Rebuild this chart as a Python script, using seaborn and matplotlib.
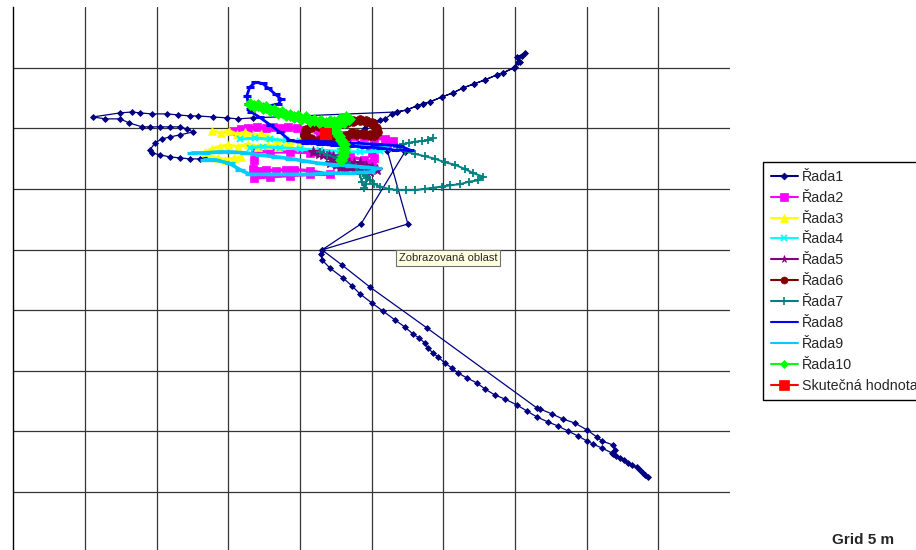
import matplotlib
matplotlib.use("Agg")
import matplotlib.pyplot as plt
from matplotlib.lines import Line2D
import seaborn as sns
import pandas as pd

# ---------------- data (metres, grid = 5 m) ----------------
r1_x = [13.59, 13.03, 12.33, 11.63, 10.94, 10.24, 9.68, 9.54, 9.89, 10.38, 10.94, 11.63, 12.54,
        12.12, 11.63, 10.94, 10.24, 9.54, 8.98, 8.08, 7.45, 6.40, 5.57,
        7.45, 8.29, 8.84, 9.68, 10.73, 11.49, 12.33, 12.89, 13.93, 14.91, 15.68, 16.72,
        26.77, 27.46, 28.16, 28.58, 29.07, 29.90, 30.67, 31.37, 32.14, 32.90, 33.74, 34.16,
        35.00, 35.34, 35.13, 35.69, 35.48, 35.20, 34.93,
        34.16, 33.74, 32.90, 32.14, 31.37, 30.67, 29.90, 29.07, 28.58, 28.16, 27.46, 26.77,
        26.42, 25.93, 25.58, 25.23, 25.02, 24.53, 23.49, 24.88, 26.10,
        27.53, 21.54,
        22.93, 24.88, 28.86, 36.53, 36.74, 37.58, 38.34, 39.18, 40.02, 40.71, 41.06, 41.83,
        41.97, 41.83,
        42.32, 42.88, 43.50, 43.92, 44.27, 44.06, 43.71, 43.16, 42.60, 42.04,
        41.76, 41.06, 40.43, 40.02, 39.39, 38.69, 37.99, 37.30, 36.53, 35.83, 35.13, 34.30,
        33.60, 32.90, 32.35, 31.65, 31.02, 30.60, 30.11, 29.63, 29.28, 28.93, 28.72, 28.30,
        27.88, 27.32, 26.63, 25.79, 25.02, 24.19, 23.63, 23.00, 22.09, 21.54, 21.47, 21.54,
        24.26, 27.32]
r1_y = [32.64, 32.48, 32.48, 32.56, 32.64, 32.81, 32.97, 33.22, 33.80, 34.13, 34.29, 34.46, 34.70,
        34.95, 35.12, 35.12, 35.12, 35.12, 35.12, 35.45, 35.78, 35.78, 35.94,
        36.27, 36.35, 36.27, 36.19, 36.19, 36.11, 36.02, 36.02, 35.94, 35.86, 35.78, 35.86,
        36.35, 36.52, 36.85, 37.01, 37.18, 37.59, 37.92, 38.33, 38.66, 38.99, 39.41, 39.57,
        40.07, 40.48, 40.89, 41.22, 40.97, 40.48, 39.98,
        39.57, 39.41, 38.99, 38.66, 38.33, 37.92, 37.59, 37.18, 37.01, 36.85, 36.52, 36.35,
        36.19, 35.78, 35.69, 35.53, 35.36, 35.03, 34.21, 33.55, 33.14,
        27.11, 24.97,
        23.73, 21.91, 18.53, 11.93, 11.85, 11.44, 11.02, 10.69, 10.12, 9.54, 9.21, 8.88,
        8.47, 8.14,
        7.81, 7.39, 7.06, 6.57, 6.24, 6.40, 6.82, 7.23, 7.64, 7.97,
        8.22, 8.63, 8.96, 9.21, 9.62, 10.03, 10.45, 10.78, 11.19, 11.68, 12.18, 12.67,
        13.00, 13.50, 13.99, 14.41, 14.82, 15.23, 15.64, 16.14, 16.47, 16.88, 17.29, 17.71,
        18.04, 18.61, 19.19, 19.93, 20.59, 21.34, 22.00, 22.66, 23.48, 24.14, 24.64, 24.97,
        27.11, 33.05]

r2_x = [15.3, 15.9, 16.4, 17.0, 17.6, 18.1, 18.7, 19.2, 19.8, 20.35, 21.4, 22.4, 23.1, 23.8,
        24.5, 25.2, 25.9, 26.5, 26.1, 25.4, 24.9, 25.0, 25.2, 25.0, 24.5, 23.5, 22.1, 20.7,
        19.3, 17.9, 16.9, 16.8, 16.7, 16.8, 17.9, 19.3, 20.7, 22.1, 20.7, 19.6, 19.0, 18.3,
        17.6, 17.1]
r2_y = [34.8, 34.95, 35.0, 35.1, 35.0, 35.1, 35.0, 35.1, 35.0, 34.9, 34.5, 34.4, 34.45, 34.4,
        34.3, 34.2, 34.1, 33.95, 33.7, 33.5, 33.4, 33.0, 32.55, 32.1, 32.4, 32.65, 32.8, 33.0,
        33.05, 33.05, 33.1, 32.4, 31.65, 30.9, 31.0, 31.1, 31.2, 31.2, 31.5, 31.6, 31.6, 31.5,
        31.6, 31.5]

r3_x = [13.9, 14.5, 15.05, 15.6, 16.2, 16.7, 17.3, 17.8, 18.4, 19.2, 20.0, 20.6, 20.35, 20.6,
        20.2, 19.3, 18.5, 17.8, 17.1, 16.4, 15.7, 15.0, 14.4, 13.9, 13.4, 13.7, 14.3, 14.8,
        15.4, 15.9]
r3_y = [34.8, 34.6, 34.8, 34.5, 34.7, 34.45, 34.5, 34.3, 34.0, 33.9, 33.8, 34.0, 34.45, 34.95,
        34.2, 33.6, 33.5, 33.6, 33.5, 33.7, 33.5, 33.6, 33.5, 33.3, 33.05, 32.7, 32.55, 32.4,
        32.55, 32.6]

r4_x = [15.8, 16.9, 17.9, 19.0, 20.0, 21.0, 22.1, 23.1, 24.2, 25.2, 26.1, 25.6, 24.2, 22.8,
        21.4, 20.0, 18.6, 17.4, 16.5]
r4_y = [34.1, 34.2, 34.1, 34.0, 33.95, 33.9, 33.8, 33.6, 33.5, 33.5, 33.4, 33.1, 33.05, 33.1,
        33.2, 33.3, 33.4, 33.5, 33.4]

r5_x = [20.9, 21.3, 21.6, 22.0, 22.3, 22.7, 22.4, 22.1, 22.5, 22.9, 23.4, 23.8, 24.2, 24.6,
        25.0, 25.4, 24.9, 24.3, 23.8, 23.2, 22.8]
r5_y = [33.05, 32.9, 32.8, 32.7, 32.65, 32.55, 32.3, 32.1, 32.0, 31.9, 32.1, 32.1, 32.1, 31.9,
        31.7, 31.6, 31.4, 31.5, 31.6, 31.6, 31.7]

r6_x = [20.35, 20.4, 20.8, 21.3, 21.8, 22.3, 22.8, 23.3, 23.7, 24.2, 24.6, 25.0, 25.3, 25.4,
        25.2, 24.9, 24.5, 24.0, 23.6, 23.2, 22.8, 22.4, 22.0, 21.4, 20.8, 20.4]
r6_y = [34.45, 34.9, 35.1, 35.2, 35.3, 35.4, 35.45, 35.5, 35.6, 35.7, 35.6, 35.4, 35.0, 34.7,
        34.45, 34.45, 34.5, 34.5, 34.6, 34.4, 34.2, 34.1, 34.0, 34.0, 34.1, 34.3]

r7_x = [29.3, 28.9, 28.5, 28.0, 27.6, 27.2, 26.8, 27.3, 28.0, 28.7, 29.4, 30.1, 30.8, 31.5,
        32.1, 32.8, 32.4, 31.8, 31.2, 30.5, 29.9, 29.3, 28.7, 28.0, 27.4, 26.8, 26.2, 25.6,
        25.2, 24.9, 24.6, 24.5, 24.7, 24.6, 24.5, 24.3, 24.2, 23.9, 23.3, 22.6, 21.9, 21.4]
r7_y = [34.2, 34.0, 33.95, 33.9, 33.8, 33.7, 33.5, 33.1, 32.9, 32.7, 32.5, 32.2, 32.0, 31.65,
        31.3, 31.0, 30.7, 30.6, 30.4, 30.3, 30.2, 30.1, 30.0, 29.9, 29.9, 29.9, 30.0, 30.2,
        30.4, 30.7, 31.1, 31.4, 30.9, 30.4, 30.1, 30.6, 31.2, 31.8, 32.2, 32.55, 32.8, 33.05]

r8_x = [20.0, 21.7, 23.5, 25.2, 27.0, 27.7, 26.6, 25.6, 24.5, 23.5, 22.4, 21.4, 20.35, 19.3,
        18.6, 17.9, 17.2, 16.6, 16.4, 16.3, 16.5, 16.9, 17.4, 17.8, 18.3, 18.7, 18.5, 17.8,
        17.1, 16.5]
r8_y = [33.95, 33.9, 33.8, 33.7, 33.55, 33.2, 33.2, 33.4, 33.45, 33.55, 33.6, 33.7, 33.8, 34.0,
        34.7, 35.3, 35.9, 36.35, 37.0, 37.7, 38.4, 38.8, 38.7, 38.3, 37.8, 37.4, 37.0, 36.85,
        36.8, 36.6]

r9_x = [12.5, 13.4, 14.3, 15.1, 16.2, 17.2, 18.3, 19.3, 20.35, 21.4, 22.4, 23.5, 24.5, 25.4,
        24.9, 23.5, 22.1, 20.7, 19.3, 17.9, 16.5, 15.8, 15.1, 14.1, 13.4]
r9_y = [32.97, 32.97, 33.05, 33.05, 32.97, 32.8, 32.65, 32.5, 32.3, 32.1, 32.0, 31.9, 31.8, 31.7,
        31.4, 31.3, 31.3, 31.2, 31.2, 31.2, 31.2, 31.6, 32.1, 32.4, 32.4]

r10_x = [16.5, 16.8, 17.1, 17.4, 17.6, 17.9, 18.2, 18.5, 18.75, 19.0, 19.3, 19.6, 19.9, 20.1,
         20.4, 20.7, 21.0, 21.3, 21.5, 21.8, 22.1, 22.4, 22.7, 22.9, 23.2, 23.4, 23.1, 22.8,
         22.4, 22.3, 22.5, 22.7, 22.9, 23.1, 23.1, 23.1, 23.0, 22.9]
r10_y = [37.0, 36.85, 36.9, 36.7, 36.8, 36.5, 36.5, 36.3, 36.35, 36.1, 36.1, 35.95, 36.0, 35.8,
         35.9, 35.6, 35.7, 35.5, 35.6, 35.45, 35.6, 35.5, 35.7, 35.8, 35.95, 35.8, 35.5, 35.45,
         35.3, 35.0, 34.7, 34.4, 34.0, 33.7, 33.4, 33.05, 32.7, 32.4]

actual_x = [21.8]
actual_y = [34.5]

labels = ["Řada1", "Řada2", "Řada3", "Řada4", "Řada5", "Řada6", "Řada7",
          "Řada8", "Řada9", "Řada10", "Skutečná hodnota"]
colors = ["#000080", "#FF00FF", "#FFFF00", "#00FFFF", "#800080", "#800000",
          "#008080", "#0000FF", "#00CCFF", "#00FF00", "#FF0000"]
markers = ["D", "s", "^", "x", "*", "o", "+", "_", "_", "D", "s"]
grid_note = "Grid 5 m"
tooltip = "Zobrazovaná oblast"

series = [(r1_x, r1_y), (r2_x, r2_y), (r3_x, r3_y), (r4_x, r4_y), (r5_x, r5_y),
          (r6_x, r6_y), (r7_x, r7_y), (r8_x, r8_y), (r9_x, r9_y), (r10_x, r10_y)]

# ---------------- styling ----------------
sns.set_style("white")
plt.rcParams["font.family"] = ["Liberation Sans", "DejaVu Sans"]

fig = plt.figure(figsize=(9.16, 5.5), dpi=100)
W, H = 916.0, 550.0
ax = fig.add_axes([13.2 / W, (H - 552.6) / H, 716.8 / W, 545.5 / H])
ax.set_xlim(0, 50)
ax.set_ylim(0, 45)

ms = [3.0, 5.5, 6.0, 5.0, 8.0, 7.0, 6.0, 6.0, 7.0, 6.5]
lws = [0.9, 2.4, 2.4, 2.2, 2.2, 2.6, 1.4, 2.0, 2.6, 2.6]
mews = [0.6, 0.5, 0.5, 1.4, 0.8, 0.5, 1.3, 2.2, 2.4, 0.5]

for i, (xs, ys) in enumerate(series):
    df = pd.DataFrame({"x": xs, "y": ys})
    sns.lineplot(data=df, x="x", y="y", ax=ax, sort=False, estimator=None,
                 color=colors[i], lw=lws[i], marker=markers[i], ms=ms[i],
                 mec=colors[i], mfc=colors[i], mew=mews[i], zorder=2 + i)

sns.scatterplot(x=actual_x, y=actual_y, ax=ax, marker="s", s=78, color="#FF0000",
                edgecolor="#FF0000", linewidth=0, zorder=20)

# grid / axes
ax.set_xticks(range(5, 50, 5))
ax.set_yticks(range(5, 45, 5))
ax.grid(True, color="#353535", lw=0.9)
ax.set_axisbelow(True)
ax.tick_params(axis="x", length=0, labelbottom=False)
ax.tick_params(axis="y", direction="out", length=2.6, width=0.9, color="#353535",
               labelleft=False)
ax.set_xlabel("")
ax.set_ylabel("")
for s in ["top", "right", "bottom"]:
    ax.spines[s].set_visible(False)
ax.spines["left"].set_color("black")
ax.spines["left"].set_linewidth(1.0)

# tooltip
ax.text(26.9, 24.3, tooltip, fontsize=8, va="center", ha="left", zorder=30,
        bbox=dict(boxstyle="square,pad=0.25", fc="#FFFFE1", ec="#707070", lw=0.8))

# legend
leg_ms = [3.5, 5.5, 5.5, 4.5, 5.5, 5.0, 5.5, 5.0, 6.0, 4.5, 7.0]
handles = [Line2D([0], [0], color=colors[i], lw=1.5, marker=markers[i], ms=leg_ms[i],
                  mec=colors[i], mfc=colors[i], mew=(1.2 if markers[i] in "x+_" else 0.5))
           for i in range(len(labels))]
leg = ax.legend(handles, labels, loc="upper left",
                bbox_to_anchor=(763 / W, 1 - 162 / H), bbox_transform=fig.transFigure,
                borderaxespad=0, frameon=True, fancybox=False, shadow=False,
                edgecolor="black", framealpha=1, fontsize=10.3, handlelength=1.9,
                handletextpad=0.28, labelspacing=0.48, borderpad=0.55, numpoints=1)
leg.get_frame().set_linewidth(1.0)

fig.text(832 / W, 1 - 540 / H, grid_note, fontsize=11, fontweight="bold",
         va="center", ha="left")

fig.savefig("out.png", dpi=100)
